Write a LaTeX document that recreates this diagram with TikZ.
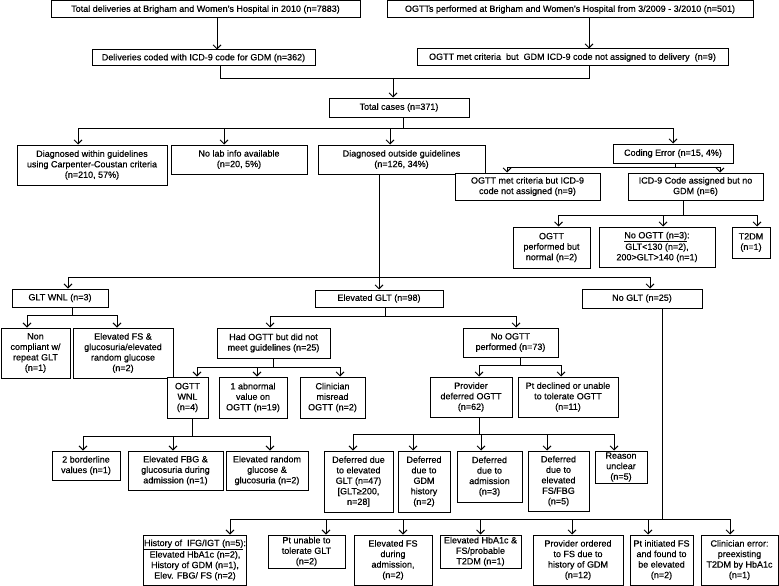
\documentclass[tikz,border=0pt]{standalone}
\usepackage{fontspec}
\setmainfont{Liberation Sans}[FakeBold=0.4]
\usepackage{tikz}
\usetikzlibrary{arrows.meta, positioning, calc}

\begin{document}
\begin{tikzpicture}[
      x=1pt, y=-1pt,
      box/.style={rectangle, draw=black, line width=1pt, fill=white, inner sep=0.5pt,
                  align=center, font=\fontsize{9}{10.5}\selectfont},
      conn/.style={line width=0.9pt},
      arr/.style={-{Straight Barb[length=4pt, width=8pt]}, line width=0.9pt}
    ]
      \useasboundingbox (0,0) rectangle (779,586);
      % top rows
      \node[box, minimum width=309pt, minimum height=17pt] (deliv) at (205.5,9.5) {Total deliveries at Brigham and Women's Hospital in 2010 (n=7883)};
      \node[box, minimum width=366pt, minimum height=17pt] (ogtts) at (570,9.5) {OGTTs performed at Brigham and Women's Hospital from 3/2009 - 3/2010 (n=501)};
      \node[box, minimum width=223pt, minimum height=16pt] (coded) at (203.5,58) {Deliveries coded with ICD-9 code for GDM (n=362)};
      \node[box, minimum width=311pt, minimum height=17pt] (metnc) at (572.5,57.5) {OGTT met criteria\ \ but\ \ GDM ICD-9 code not assigned to delivery\ \ (n=9)};
      \node[box, minimum width=140pt, minimum height=19pt] (cases) at (399,107.5) {Total cases (n=371)};
      \node[box, minimum width=150pt, minimum height=40pt] (within) at (92,165) {Diagnosed within guidelines\\using Carpenter-Coustan criteria\\(n=210, 57\%)};
      \node[box, minimum width=136pt, minimum height=29pt] (nolab) at (239,159.5) {No lab info available\\(n=20, 5\%)};
      \node[box, minimum width=167pt, minimum height=29pt] (outside) at (401.5,159.5) {Diagnosed outside guidelines\\(n=126, 34\%)};
      \node[box, minimum width=120pt, minimum height=19pt] (coding) at (673,153.5) {Coding Error (n=15, 4\%)};
      \node[box, minimum width=145pt, minimum height=27pt] (metcrit) at (527.5,186.5) {OGTT met criteria but ICD-9\\code not assigned (n=9)};
      \node[box, minimum width=135pt, minimum height=27pt] (icdnogdm) at (695.5,186.5) {ICD-9 Code assigned but no\\GDM (n=6)};
      \node[box, minimum width=77pt, minimum height=41pt] (normal) at (551.5,247.5) {OGTT\\performed but\\normal (n=2)};
      \node[box, minimum width=116pt, minimum height=40pt] (noogtt) at (657,247) {\underline{No OGTT (n=3)}:\\[1pt]GLT<130 (n=2),\\200>GLT>140 (n=1)};
      \node[box, minimum width=38pt, minimum height=31pt] (ttdm) at (751,242.5) {T2DM\\(n=1)};
      % glucose tolerance test
      \node[box, minimum width=96pt, minimum height=18pt] (wnl) at (60,298) {GLT WNL (n=3)};
      \node[box, minimum width=128pt, minimum height=17pt] (elevglt) at (379,298.5) {Elevated GLT (n=98)};
      \node[box, minimum width=120pt, minimum height=19pt] (noglt) at (642,298.5) {No GLT (n=25)};
      \node[box, minimum width=69pt, minimum height=50pt] (noncomp) at (35.5,353) {Non\\compliant w/\\repeat GLT\\(n=1)};
      \node[box, minimum width=100pt, minimum height=50pt] (elevfs) at (123,353) {Elevated FS \&\\glucosuria/elevated\\random glucose\\(n=2)};
      \node[box, minimum width=113pt, minimum height=30pt] (hadogtt) at (273.5,343) {Had OGTT but did not\\meet guidelines (n=25)};
      \node[box, minimum width=95pt, minimum height=29pt] (noperf) at (510.5,342.5) {No OGTT\\performed (n=73)};
      \node[box, minimum width=41pt, minimum height=41pt] (ogttwnl) at (187.5,397.5) {OGTT\\WNL\\(n=4)};
      \node[box, minimum width=68pt, minimum height=41pt] (abnormal) at (253,397.5) {1 abnormal\\value on\\OGTT (n=19)};
      \node[box, minimum width=65pt, minimum height=41pt] (misread) at (332.5,397.5) {Clinician\\misread\\OGTT (n=2)};
      \node[box, minimum width=82pt, minimum height=40pt] (provdef) at (471,397) {Provider\\deferred OGTT\\(n=62)};
      \node[box, minimum width=100pt, minimum height=40pt] (declined) at (568,397) {Pt declined or unable\\to tolerate OGTT\\(n=11)};
      \node[box, minimum width=68pt, minimum height=29pt] (borderline) at (86,465.5) {2 borderline\\values (n=1)};
      \node[box, minimum width=95pt, minimum height=39pt] (fbg) at (175.5,470.5) {Elevated FBG \&\\glucosuria during\\admission (n=1)};
      \node[box, minimum width=82pt, minimum height=39pt] (randgl) at (267,470.5) {Elevated random\\glucose \&\\glucosuria (n=2)};
      \node[box, minimum width=69pt, minimum height=61pt] (defglt) at (358.5,481.5) {Deferred due\\to elevated\\GLT (n=47)\\{[}GLT≥200,\\n=28{]}};
      \node[box, minimum width=52pt, minimum height=61pt] (defgdm) at (424,481.5) {Deferred\\due to\\GDM\\history\\(n=2)};
      \node[box, minimum width=65pt, minimum height=51pt] (defadm) at (489.5,476.5) {Deferred\\due to\\admission\\(n=3)};
      \node[box, minimum width=61pt, minimum height=60pt] (deffs) at (558.5,481) {Deferred\\due to\\elevated\\FS/FBG\\(n=5)};
      \node[box, minimum width=52pt, minimum height=32pt] (unclear) at (621,467) {Reason\\unclear\\(n=5)};
      % no GLT reasons
      \node[box, minimum width=102pt, minimum height=50pt] (hist) at (195,560) {\underline{History of\ \ IFG/IGT (n=5)}:\\[1pt]Elevated HbA1c (n=2),\\History of GDM (n=1),\\Elev. FBG/ FS (n=2)};
      \node[box, minimum width=77pt, minimum height=33pt] (unable) at (306.5,551.5) {Pt unable to\\tolerate GLT\\(n=2)};
      \node[box, minimum width=78pt, minimum height=50pt] (fsadm) at (393,560) {Elevated FS\\during\\admission,\\(n=2)};
      \node[box, minimum width=81pt, minimum height=33pt] (hbaic) at (480.5,551.5) {Elevated HbA1c \&\\FS/probable\\T2DM (n=1)};
      \node[box, minimum width=90pt, minimum height=50pt] (ordered) at (578,560) {Provider ordered\\to FS due to\\history of GDM\\(n=12)};
      \node[box, minimum width=63pt, minimum height=50pt] (initiated) at (661.5,560) {Pt initiated FS\\and found to\\be elevated\\(n=2)};
      \node[box, minimum width=77pt, minimum height=50pt] (clinerr) at (739.5,560) {Clinician error:\\preexisting\\T2DM by HbA1c\\(n=1)};

      \coordinate (m1) at (393,78);
      \coordinate (b2) at (403,128);
      \coordinate (b3) at (675,167);
      \coordinate (b4) at (683,215);
      \coordinate (b5) at (379,277);
      \coordinate (b6) at (72,315);
      \coordinate (b7) at (385,316);
      \coordinate (b8) at (273,367);
      \coordinate (b9) at (192,436);
      \coordinate (b10) at (520,365);
      \coordinate (b11) at (479,434);
      \coordinate (b12) at (662,519);

      \draw[arr] ([xshift=11.5pt]deliv.south) -- ([xshift=13.5pt]coded.north);
      \draw[arr] ([xshift=19pt]ogtts.south) -- ([xshift=16.5pt]metnc.north);
      \draw[conn] ([xshift=16.5pt]coded.south) |- (m1);
      \draw[conn] ([xshift=16.5pt]metnc.south) |- (m1);
      \draw[arr] (m1) -- (m1 |- cases.north);

      \draw[conn] ([xshift=4pt]cases.south) -- (b2);
      \draw[arr] (b2) -| ([xshift=-14pt]within.north);
      \draw[arr] (b2) -| ([xshift=-15pt]nolab.north);
      \draw[arr] (b2) -| ([xshift=-11.5pt]outside.north);
      \draw[arr] (b2) -| (coding.north);

      \draw[conn] ([xshift=2pt]coding.south) -- (b3);
      \draw[arr] (b3) -| ([xshift=-20.5pt]metcrit.north);
      \draw[arr] (b3) -| ([xshift=24.5pt]icdnogdm.north);

      \draw[conn] ([xshift=-12.5pt]icdnogdm.south) -- (b4);
      \draw[arr] (b4) -| ([xshift=7pt]normal.north);
      \draw[arr] (b4) -| ([xshift=6pt]noogtt.north);
      \draw[arr] (b4) -| ([xshift=6pt]ttdm.north);

      \draw[conn] ([xshift=-22.5pt]outside.south) -- (b5);
      \draw[arr] (b5) -| ([xshift=8pt]wnl.north);
      \draw[arr] (b5) -- (elevglt.north);
      \draw[arr] (b5) -| ([xshift=8pt]noglt.north);

      \draw[conn] ([xshift=12pt]wnl.south) -- (b6);
      \draw[arr] (b6) -| ([xshift=-8.5pt]noncomp.north);
      \draw[arr] (b6) -| ([xshift=-6pt]elevfs.north);

      \draw[conn] ([xshift=6pt]elevglt.south) -- (b7);
      \draw[arr] (b7) -| ([xshift=-3.5pt]hadogtt.north);
      \draw[arr] (b7) -| ([xshift=5.5pt]noperf.north);

      \draw[conn] ([xshift=-0.5pt]hadogtt.south) -- (b8);
      \draw[arr] (b8) -| ([xshift=9.5pt]ogttwnl.north);
      \draw[arr] (b8) -| ([xshift=4pt]abnormal.north);
      \draw[arr] (b8) -| ([xshift=7.5pt]misread.north);

      \draw[conn] ([xshift=4.5pt]ogttwnl.south) -- (b9);
      \draw[arr] (b9) -| ([xshift=-3pt]borderline.north);
      \draw[arr] (b9) -| ([xshift=-2.5pt]fbg.north);
      \draw[arr] (b9) -| ([xshift=3pt]randgl.north);

      \draw[conn] ([xshift=9.5pt]noperf.south) -- (b10);
      \draw[arr] (b10) -| ([xshift=8pt]provdef.north);
      \draw[arr] (b10) -| ([xshift=-7pt]declined.north);

      \draw[conn] ([xshift=8pt]provdef.south) -- (b11);
      \draw[arr] (b11) -| ([xshift=-5.5pt]defglt.north);
      \draw[arr] (b11) -| ([xshift=-11pt]defgdm.north);
      \draw[arr] (b11) -| ([xshift=-8.5pt]defadm.north);
      \draw[arr] (b11) -| ([xshift=-11.5pt]deffs.north);
      \draw[arr] (b11) -| ([xshift=-7pt]unclear.north);

      \draw[conn] ([xshift=20pt]noglt.south) -- (b12);
      \draw[arr] (b12) -| ([xshift=35pt]hist.north);
      \draw[arr] (b12) -| ([xshift=19.5pt]unable.north);
      \draw[arr] (b12) -| ([xshift=10pt]fsadm.north);
      \draw[arr] (b12) -| (hbaic.north);
      \draw[arr] (b12) -| ([xshift=-6pt]ordered.north);
      \draw[arr] (b12) -| ([xshift=-13.5pt]initiated.north);
      \draw[arr] (b12) -| ([xshift=-9.5pt]clinerr.north);
    \end{tikzpicture}
\end{document}
